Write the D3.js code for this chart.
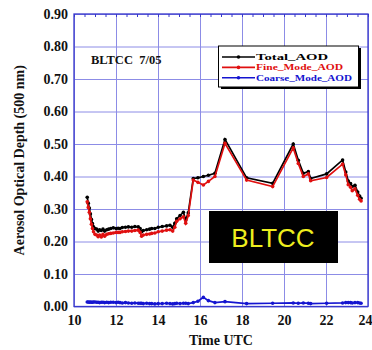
<!DOCTYPE html>
<html>
<head>
<meta charset="utf-8">
<script src="https://cdn.jsdelivr.net/npm/d3@7"></script>
<style>
  html, body { margin: 0; padding: 0; background: #fff; }
  svg { display: block; }
  .tick text { font-family: "Liberation Serif", "Times New Roman", serif; font-weight: bold; }
</style>
</head>
<body>
<svg id="chart" width="372" height="350"></svg>
<script>
// AOD time series, BLTCC site, 7/05 (hours UTC)
const timeUTC = [10.63,10.68,10.73,10.78,10.83,10.88,10.93,11.00,11.08,11.15,11.22,11.30,11.38,11.46,11.56,11.65,11.75,11.87,12.00,12.10,12.19,12.30,12.45,12.59,12.75,12.90,13.06,13.15,13.22,13.30,13.46,13.60,13.70,13.85,14.01,14.20,14.41,14.57,14.70,14.80,14.89,15.05,15.21,15.32,15.44,15.68,15.90,16.16,16.40,16.71,17.19,18.22,19.46,20.44,20.68,20.92,21.16,21.27,22.03,22.79,22.94,23.06,23.17,23.25,23.38,23.51,23.60,23.67];
const totalAOD = [0.336,0.318,0.303,0.285,0.268,0.255,0.245,0.240,0.238,0.232,0.236,0.234,0.238,0.232,0.236,0.238,0.240,0.242,0.240,0.241,0.240,0.243,0.244,0.245,0.244,0.246,0.245,0.240,0.230,0.234,0.236,0.238,0.240,0.240,0.244,0.246,0.248,0.250,0.244,0.256,0.270,0.280,0.290,0.266,0.288,0.394,0.396,0.400,0.404,0.410,0.514,0.396,0.379,0.500,0.450,0.410,0.415,0.394,0.408,0.451,0.414,0.386,0.378,0.369,0.373,0.352,0.340,0.333];
const fineAOD = [0.322,0.305,0.290,0.270,0.253,0.240,0.230,0.222,0.220,0.215,0.220,0.214,0.222,0.216,0.222,0.224,0.225,0.226,0.228,0.228,0.228,0.230,0.231,0.232,0.232,0.234,0.235,0.228,0.216,0.220,0.222,0.223,0.225,0.226,0.230,0.232,0.235,0.236,0.232,0.244,0.262,0.270,0.276,0.256,0.280,0.389,0.382,0.374,0.385,0.400,0.502,0.389,0.369,0.488,0.440,0.400,0.408,0.387,0.397,0.438,0.405,0.375,0.367,0.356,0.362,0.342,0.330,0.325];
const coarseAOD = [0.014,0.014,0.013,0.014,0.013,0.013,0.014,0.014,0.013,0.013,0.012,0.013,0.013,0.012,0.013,0.012,0.013,0.013,0.012,0.013,0.012,0.011,0.012,0.011,0.010,0.011,0.010,0.010,0.010,0.009,0.010,0.009,0.009,0.008,0.009,0.009,0.010,0.009,0.008,0.009,0.010,0.009,0.010,0.010,0.009,0.012,0.016,0.028,0.018,0.012,0.015,0.009,0.010,0.011,0.010,0.011,0.010,0.009,0.010,0.011,0.012,0.012,0.012,0.011,0.012,0.012,0.011,0.010];

const xTicks = [10,12,14,16,18,20,22,24];
const yTicks = [0,0.1,0.2,0.3,0.4,0.5,0.6,0.7,0.8,0.9];

const seriesNames = ["Total_AOD","Fine_Mode_AOD","Coarse_Mode_AOD"];
const seriesColors = ["#000000","#e01010","#1414d0"];
const seriesValues = [totalAOD, fineAOD, coarseAOD];

const svg = d3.select("#chart");
const plotLeft = 74, plotRight = 368, plotTop = 14, plotBottom = 306.5;
const x = d3.scaleLinear().domain([10,24]).range([plotLeft,plotRight]);
const y = d3.scaleLinear().domain([0,0.9]).range([plotBottom,plotTop]);
const serif = '"Liberation Serif", "Times New Roman", serif';
const gridColor = "#8c8ce6";
const frameColor = "#3838cc";

// grid
const gridX = svg.append("g").attr("transform", `translate(0,${plotBottom})`)
  .call(d3.axisBottom(x).tickValues(xTicks).tickSize(-(plotBottom-plotTop)).tickFormat(""));
gridX.select(".domain").remove();
gridX.selectAll("line").attr("stroke", gridColor).attr("stroke-width", 1);

const gridY = svg.append("g").attr("transform", `translate(${plotLeft},0)`)
  .call(d3.axisLeft(y).tickValues(yTicks).tickSize(-(plotRight-plotLeft)).tickFormat(""));
gridY.select(".domain").remove();
gridY.selectAll("line").attr("stroke", gridColor).attr("stroke-width", 1);

// minor ticks along the top edge
const minorX = d3.range(10, 24.01, 0.5);
const topTicks = svg.append("g").attr("transform", `translate(0,${plotTop})`)
  .call(d3.axisBottom(x).tickValues(minorX).tickSize(3).tickFormat(""));
topTicks.select(".domain").remove();
topTicks.selectAll("line").attr("stroke", frameColor);

// frame
svg.append("rect")
  .attr("x", plotLeft).attr("y", plotTop)
  .attr("width", plotRight-plotLeft).attr("height", plotBottom-plotTop)
  .attr("fill", "none").attr("stroke", frameColor).attr("stroke-width", 1.3);

// tick labels
const axX = svg.append("g").attr("transform", `translate(0,${plotBottom})`)
  .call(d3.axisBottom(x).tickValues(xTicks).tickSize(0).tickPadding(9).tickFormat(d3.format("d")));
axX.select(".domain").remove();
axX.selectAll("text").attr("font-size", 14).attr("fill", "#111");
// keep the last label inside the page
axX.selectAll(".tick").filter(d => d === 24).select("text")
  .attr("text-anchor", "end").attr("dx", 4);

const axY = svg.append("g").attr("transform", `translate(${plotLeft},0)`)
  .call(d3.axisLeft(y).tickValues(yTicks).tickSize(0).tickPadding(6).tickFormat(d3.format(".2f")));
axY.select(".domain").remove();
axY.selectAll("text").attr("font-size", 14).attr("fill", "#111");

// axis titles
svg.append("text")
  .attr("x", (plotLeft+plotRight)/2).attr("y", 345)
  .attr("text-anchor", "middle")
  .attr("font-family", serif).attr("font-weight", "bold").attr("font-size", 14)
  .attr("fill", "#111")
  .text("Time UTC");

svg.append("text")
  .attr("transform", `translate(24,${(plotTop+plotBottom)/2}) rotate(-90)`)
  .attr("text-anchor", "middle")
  .attr("font-family", serif).attr("font-weight", "bold").attr("font-size", 14)
  .attr("fill", "#111")
  .text("Aerosol Optical Depth (500 nm)");

// series lines with point markers
const plot = svg.append("g");
seriesValues.forEach((vals, i) => {
  const pts = timeUTC.map((t, k) => [t, vals[k]]);
  const line = d3.line().x(d => x(d[0])).y(d => y(d[1]));
  plot.append("path").datum(pts)
    .attr("d", line)
    .attr("fill", "none")
    .attr("stroke", seriesColors[i])
    .attr("stroke-width", 1.7);
  plot.append("g").selectAll("circle").data(pts).join("circle")
    .attr("cx", d => x(d[0])).attr("cy", d => y(d[1]))
    .attr("r", 1.8).attr("fill", seriesColors[i]);
});

// site / date label
svg.append("text")
  .attr("x", 91).attr("y", 63.5)
  .attr("xml:space", "preserve")
  .attr("font-family", serif).attr("font-weight", "bold").attr("font-size", 12.5)
  .attr("fill", "#111")
  .text("BLTCC  7/05");

// legend with drop shadow
const legendWidths = [72, 87, 96];
const lg = svg.append("g");
lg.append("rect").attr("x", 221).attr("y", 48).attr("width", 140).attr("height", 41).attr("fill", "#000");
lg.append("rect").attr("x", 218.5).attr("y", 46).attr("width", 140).attr("height", 41)
  .attr("fill", "#fff").attr("stroke", "#000").attr("stroke-width", 1);
seriesNames.forEach((name, i) => {
  const yy = 57 + i*10.4;
  lg.append("line").attr("x1", 222).attr("x2", 255).attr("y1", yy).attr("y2", yy)
    .attr("stroke", seriesColors[i]).attr("stroke-width", 1.6);
  lg.append("circle").attr("cx", 238.5).attr("cy", yy).attr("r", 1.8).attr("fill", seriesColors[i]);
  lg.append("text").attr("x", 256).attr("y", yy + 3)
    .attr("font-family", serif).attr("font-weight", "bold").attr("font-size", 9)
    .attr("textLength", legendWidths[i]).attr("lengthAdjust", "spacingAndGlyphs")
    .attr("fill", seriesColors[i])
    .text(name);
});

// station badge
svg.append("rect").attr("x", 209).attr("y", 211).attr("width", 129).attr("height", 52).attr("fill", "#000");
svg.append("text")
  .attr("x", 273).attr("y", 247)
  .attr("text-anchor", "middle")
  .attr("font-family", '"Liberation Sans", Arial, sans-serif').attr("font-size", 26)
  .attr("fill", "#eeee1e")
  .text("BLTCC");
</script>
</body>
</html>
